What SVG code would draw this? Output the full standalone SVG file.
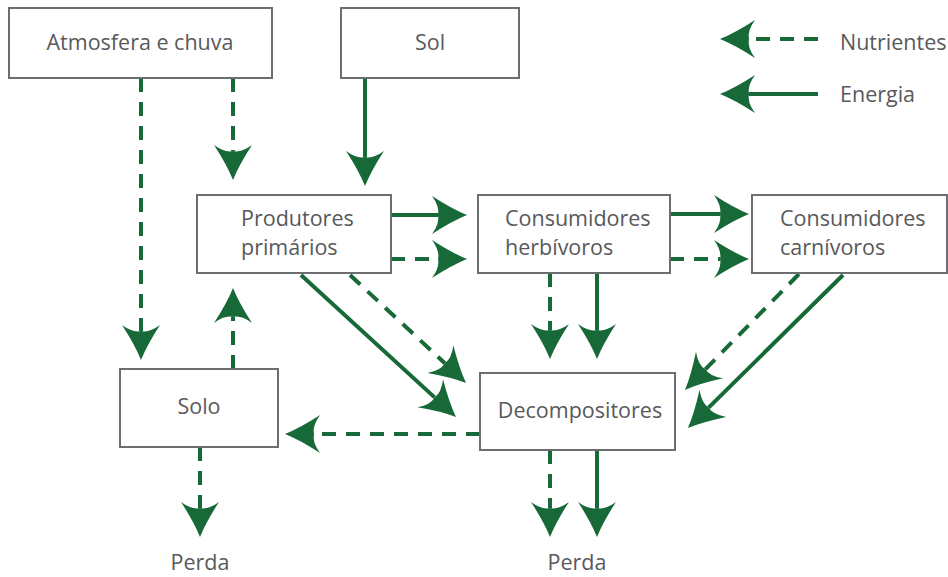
<svg xmlns="http://www.w3.org/2000/svg" width="948" height="577" viewBox="0 0 948 577">
<defs>
<marker id="ah" markerUnits="userSpaceOnUse" markerWidth="40" markerHeight="42" viewBox="0 -21 40 42" refX="6" refY="0" orient="auto" overflow="visible">
<path d="M35,0 Q20,-6 0,-19 Q8,-8 6,0 Q8,8 0,19 Q20,6 35,0 Z" fill="#176937"/>
</marker>
</defs>
<style>
.box{fill:#fff;stroke:#6d6e71;stroke-width:2}
.t{font-family:"Open Sans","Liberation Sans",sans-serif;font-size:21.5px;fill:#58595b}
.c{text-anchor:middle}
.s{fill:none;stroke:#176937;stroke-width:4;marker-end:url(#ah)}
.d{fill:none;stroke:#176937;stroke-width:4;stroke-dasharray:14 10;marker-end:url(#ah)}
</style>
<rect width="948" height="577" fill="#fff"/>
<g id="connectors">
<path class="d" d="M141,78 V331"/>
<path class="d" d="M233,78 V151"/>
<path class="s" d="M365,78 V157"/>
<path class="s" d="M391,215 H438"/>
<path class="d" d="M391,259 H438"/>
<path class="s" d="M670,214 H720"/>
<path class="d" d="M670,259 H720"/>
<path class="s" d="M301,275 L434.6,397.4"/>
<path class="d" d="M350,275 L444.8,363.2"/>
<path class="d" d="M550,273 V330"/>
<path class="s" d="M597,273 V330"/>
<path class="d" d="M799,274 L705.3,369.3"/>
<path class="s" d="M843,275 L708.6,407.6"/>
<path class="d" d="M233,369 V317"/>
<path class="d" d="M480,434 H314"/>
<path class="d" d="M200,447 V508"/>
<path class="d" d="M550,450 V508"/>
<path class="s" d="M597,450 V508"/>
</g>
<g id="atmosfera"><rect class="box" x="9" y="8" width="263" height="70"/><text class="t c" x="140" y="50">Atmosfera e chuva</text></g>
<g id="sol"><rect class="box" x="341" y="8" width="178" height="70"/><text class="t c" x="430" y="50">Sol</text></g>
<g id="produtores"><rect class="box" x="197" y="195" width="194" height="78"/><text class="t" x="241" y="226">Produtores</text><text class="t" x="241" y="255">primários</text></g>
<g id="herbivoros"><rect class="box" x="478" y="195" width="192" height="78"/><text class="t" x="505" y="226">Consumidores</text><text class="t" x="505" y="255">herbívoros</text></g>
<g id="carnivoros"><rect class="box" x="752" y="195" width="195" height="78"/><text class="t" x="780" y="226">Consumidores</text><text class="t" x="780" y="255">carnívoros</text></g>
<g id="solo"><rect class="box" x="120" y="369" width="158" height="78"/><text class="t c" x="199" y="414">Solo</text></g>
<g id="decompositores"><rect class="box" x="480" y="373" width="195" height="77"/><text class="t c" x="580" y="418">Decompositores</text></g>
<g id="perda1"><text class="t c" x="200" y="570">Perda</text></g>
<g id="perda2"><text class="t c" x="577" y="570">Perda</text></g>
<g id="legend">
<path class="d" d="M818,39 H749"/>
<path class="s" d="M818,94 H749"/>
<text class="t" x="840" y="50">Nutrientes</text>
<text class="t" x="840" y="102">Energia</text>
</g>
</svg>
